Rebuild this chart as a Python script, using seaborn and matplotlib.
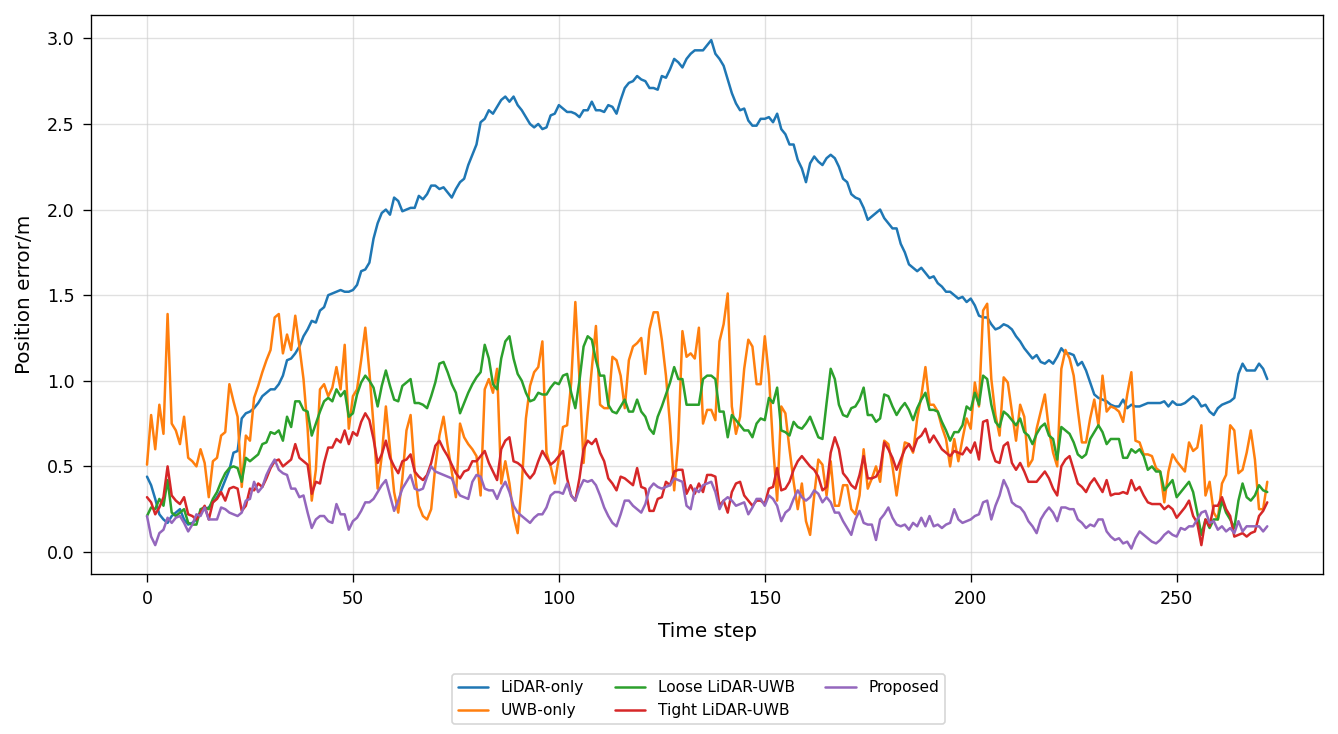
import numpy as np
import pandas as pd
import matplotlib
matplotlib.use("Agg")
import matplotlib.pyplot as plt
import seaborn as sns

# position error per time step
lidar_only = [
    0.44, 0.39, 0.31, 0.22, 0.19, 0.17, 0.21, 0.23, 0.25, 0.19,
    0.16, 0.17, 0.19, 0.23, 0.25, 0.26, 0.29, 0.32, 0.36, 0.42,
    0.48, 0.58, 0.59, 0.78, 0.81, 0.82, 0.84, 0.87, 0.91, 0.93,
    0.95, 0.95, 0.98, 1.03, 1.12, 1.13, 1.16, 1.20, 1.26, 1.30,
    1.35, 1.34, 1.41, 1.43, 1.50, 1.51, 1.52, 1.53, 1.52, 1.52,
    1.53, 1.56, 1.64, 1.65, 1.69, 1.83, 1.92, 1.98, 2.00, 1.97,
    2.07, 2.05, 1.99, 2.00, 2.01, 2.01, 2.08, 2.06, 2.09, 2.14,
    2.14, 2.12, 2.13, 2.10, 2.07, 2.12, 2.16, 2.18, 2.26, 2.32,
    2.38, 2.51, 2.53, 2.58, 2.56, 2.60, 2.64, 2.66, 2.63, 2.66,
    2.61, 2.58, 2.54, 2.50, 2.48, 2.50, 2.47, 2.48, 2.55, 2.56,
    2.61, 2.59, 2.57, 2.57, 2.56, 2.54, 2.58, 2.58, 2.63, 2.58,
    2.58, 2.57, 2.61, 2.60, 2.56, 2.64, 2.71, 2.74, 2.75, 2.78,
    2.76, 2.75, 2.71, 2.71, 2.70, 2.78, 2.77, 2.82, 2.88, 2.86,
    2.83, 2.88, 2.91, 2.93, 2.93, 2.93, 2.96, 2.99, 2.91, 2.88,
    2.84, 2.76, 2.68, 2.62, 2.58, 2.59, 2.52, 2.49, 2.49, 2.53,
    2.53, 2.54, 2.51, 2.56, 2.47, 2.44, 2.38, 2.38, 2.29, 2.24,
    2.16, 2.27, 2.31, 2.28, 2.26, 2.30, 2.32, 2.30, 2.25, 2.18,
    2.16, 2.09, 2.07, 2.06, 2.01, 1.94, 1.96, 1.98, 2.00, 1.95,
    1.92, 1.89, 1.89, 1.80, 1.75, 1.68, 1.66, 1.64, 1.66, 1.63,
    1.60, 1.61, 1.57, 1.55, 1.52, 1.52, 1.50, 1.48, 1.49, 1.46,
    1.48, 1.44, 1.38, 1.37, 1.37, 1.33, 1.30, 1.31, 1.33, 1.32,
    1.30, 1.26, 1.23, 1.19, 1.16, 1.13, 1.15, 1.11, 1.10, 1.12,
    1.10, 1.14, 1.19, 1.16, 1.16, 1.15, 1.09, 1.11, 1.06, 0.99,
    0.92, 0.90, 0.89, 0.88, 0.86, 0.85, 0.85, 0.89, 0.84, 0.86,
    0.85, 0.85, 0.86, 0.87, 0.87, 0.87, 0.87, 0.88, 0.85, 0.88,
    0.86, 0.86, 0.87, 0.89, 0.91, 0.89, 0.85, 0.86, 0.82, 0.80,
    0.84, 0.86, 0.87, 0.88, 0.90, 1.04, 1.10, 1.06, 1.06, 1.06,
    1.10, 1.07, 1.01,
]

uwb_only = [
    0.51, 0.80, 0.60, 0.86, 0.69, 1.39, 0.75, 0.71, 0.63, 0.79,
    0.55, 0.53, 0.50, 0.60, 0.52, 0.32, 0.53, 0.55, 0.68, 0.70,
    0.98, 0.88, 0.79, 0.38, 0.68, 0.65, 0.90, 0.97, 1.05, 1.12,
    1.18, 1.37, 1.39, 1.16, 1.27, 1.18, 1.38, 1.20, 1.01, 0.72,
    0.30, 0.48, 0.95, 0.98, 0.91, 0.96, 1.08, 0.95, 1.21, 0.72,
    0.91, 0.95, 1.12, 1.31, 1.05, 0.74, 0.37, 0.56, 0.85, 0.60,
    0.35, 0.23, 0.43, 0.71, 0.80, 0.47, 0.27, 0.21, 0.19, 0.25,
    0.50, 0.68, 0.79, 0.62, 0.47, 0.32, 0.75, 0.67, 0.63, 0.60,
    0.56, 0.33, 0.95, 1.01, 0.93, 1.07, 0.40, 0.53, 0.40, 0.21,
    0.11, 0.40, 0.78, 0.97, 1.05, 1.08, 1.23, 0.58, 0.50, 0.40,
    0.55, 0.73, 0.74, 0.99, 1.46, 1.01, 0.52, 0.81, 1.07, 1.32,
    0.86, 0.84, 0.84, 1.14, 1.12, 1.03, 0.84, 1.12, 1.20, 1.22,
    1.25, 1.04, 1.30, 1.40, 1.40, 1.24, 1.03, 0.74, 0.36, 0.65,
    1.29, 1.14, 1.16, 1.13, 1.31, 0.75, 0.83, 0.83, 0.77, 1.23,
    1.33, 1.51, 0.85, 0.69, 0.79, 1.07, 1.24, 1.20, 0.98, 0.98,
    1.26, 1.03, 0.62, 0.30, 0.85, 0.81, 0.60, 0.41, 0.25, 0.40,
    0.18, 0.10, 0.33, 0.54, 0.51, 0.33, 0.53, 0.27, 0.27, 0.39,
    0.39, 0.25, 0.22, 0.33, 0.60, 0.37, 0.43, 0.50, 0.41, 0.65,
    0.63, 0.50, 0.33, 0.50, 0.64, 0.63, 0.58, 0.78, 0.91, 1.08,
    0.86, 0.86, 0.82, 0.73, 0.66, 0.50, 0.66, 0.53, 0.66, 0.78,
    0.72, 0.99, 0.85, 1.41, 1.45, 1.01, 0.80, 0.68, 1.02, 0.99,
    0.82, 0.65, 0.86, 0.79, 0.50, 0.54, 0.72, 0.82, 0.92, 0.71,
    0.58, 0.50, 1.07, 1.18, 1.13, 1.03, 0.83, 0.64, 0.64, 0.78,
    0.89, 0.74, 1.03, 0.82, 0.85, 0.84, 0.82, 0.76, 0.92, 1.05,
    0.65, 0.64, 0.57, 0.57, 0.56, 0.49, 0.47, 0.29, 0.47, 0.57,
    0.53, 0.50, 0.47, 0.64, 0.59, 0.61, 0.74, 0.33, 0.41, 0.23,
    0.19, 0.40, 0.45, 0.74, 0.71, 0.46, 0.48, 0.58, 0.71, 0.54,
    0.25, 0.25, 0.41,
]

loose = [
    0.21, 0.26, 0.25, 0.31, 0.27, 0.42, 0.23, 0.21, 0.23, 0.25,
    0.17, 0.16, 0.16, 0.25, 0.26, 0.25, 0.31, 0.35, 0.41, 0.46,
    0.49, 0.50, 0.49, 0.41, 0.55, 0.53, 0.55, 0.57, 0.63, 0.64,
    0.70, 0.69, 0.71, 0.65, 0.79, 0.73, 0.88, 0.88, 0.83, 0.82,
    0.68, 0.75, 0.82, 0.88, 0.90, 0.88, 0.95, 0.91, 0.94, 0.79,
    0.81, 0.92, 0.99, 1.03, 1.00, 0.96, 0.85, 0.97, 1.06, 0.97,
    0.89, 0.88, 0.97, 0.99, 1.01, 0.87, 0.87, 0.86, 0.84, 0.91,
    0.99, 1.10, 1.11, 1.05, 0.98, 0.93, 0.81, 0.87, 0.93, 0.98,
    1.02, 1.05, 1.21, 1.13, 0.98, 0.95, 1.13, 1.23, 1.26, 1.13,
    1.04, 1.00, 0.93, 0.88, 0.89, 0.93, 0.92, 0.92, 0.96, 0.99,
    0.98, 1.03, 1.04, 0.93, 0.84, 1.00, 1.20, 1.26, 1.24, 1.12,
    1.03, 1.03, 0.86, 0.82, 0.81, 0.85, 0.89, 0.82, 0.82, 0.89,
    0.82, 0.79, 0.72, 0.69, 0.79, 0.85, 0.92, 0.99, 1.08, 1.01,
    1.01, 0.86, 0.86, 0.86, 0.86, 1.01, 1.03, 1.03, 1.01, 0.82,
    0.82, 0.67, 0.80, 0.77, 0.74, 0.71, 0.71, 0.67, 0.75, 0.78,
    0.77, 0.90, 0.87, 0.96, 0.71, 0.70, 0.68, 0.76, 0.73, 0.72,
    0.75, 0.79, 0.73, 0.67, 0.66, 0.87, 1.07, 1.01, 0.86, 0.80,
    0.79, 0.84, 0.85, 0.89, 0.96, 0.80, 0.80, 0.76, 0.78, 0.92,
    0.91, 0.85, 0.80, 0.84, 0.87, 0.83, 0.77, 0.84, 0.89, 0.93,
    0.83, 0.83, 0.82, 0.76, 0.71, 0.65, 0.70, 0.70, 0.74, 0.85,
    0.83, 0.93, 0.86, 1.03, 1.01, 0.86, 0.76, 0.73, 0.82, 0.80,
    0.77, 0.74, 0.78, 0.70, 0.68, 0.63, 0.69, 0.73, 0.75, 0.68,
    0.66, 0.54, 0.73, 0.71, 0.69, 0.64, 0.57, 0.55, 0.57, 0.66,
    0.70, 0.74, 0.70, 0.63, 0.66, 0.66, 0.66, 0.55, 0.55, 0.60,
    0.58, 0.60, 0.56, 0.48, 0.50, 0.47, 0.47, 0.36, 0.39, 0.42,
    0.32, 0.35, 0.38, 0.41, 0.35, 0.23, 0.10, 0.19, 0.14, 0.19,
    0.19, 0.30, 0.23, 0.19, 0.14, 0.30, 0.40, 0.32, 0.30, 0.33,
    0.39, 0.36, 0.35,
]

tight = [
    0.32, 0.29, 0.22, 0.26, 0.32, 0.50, 0.33, 0.30, 0.28, 0.32,
    0.22, 0.21, 0.19, 0.23, 0.27, 0.19, 0.29, 0.31, 0.35, 0.30,
    0.37, 0.38, 0.37, 0.24, 0.27, 0.37, 0.36, 0.40, 0.38, 0.43,
    0.49, 0.53, 0.54, 0.50, 0.52, 0.54, 0.63, 0.55, 0.53, 0.51,
    0.34, 0.41, 0.40, 0.52, 0.61, 0.61, 0.66, 0.64, 0.71, 0.63,
    0.70, 0.68, 0.76, 0.81, 0.77, 0.66, 0.52, 0.57, 0.65, 0.55,
    0.50, 0.46, 0.53, 0.54, 0.57, 0.47, 0.44, 0.42, 0.45, 0.52,
    0.62, 0.65, 0.60, 0.56, 0.51, 0.46, 0.43, 0.47, 0.48, 0.53,
    0.53, 0.56, 0.59, 0.52, 0.47, 0.42, 0.60, 0.65, 0.67, 0.53,
    0.52, 0.50, 0.46, 0.43, 0.46, 0.53, 0.59, 0.55, 0.51, 0.53,
    0.56, 0.59, 0.43, 0.33, 0.30, 0.43, 0.60, 0.65, 0.63, 0.66,
    0.58, 0.53, 0.43, 0.40, 0.36, 0.44, 0.43, 0.41, 0.39, 0.49,
    0.38, 0.37, 0.24, 0.24, 0.31, 0.32, 0.41, 0.39, 0.47, 0.48,
    0.48, 0.34, 0.39, 0.34, 0.40, 0.35, 0.45, 0.45, 0.44, 0.27,
    0.30, 0.23, 0.35, 0.40, 0.41, 0.33, 0.30, 0.27, 0.30, 0.30,
    0.28, 0.37, 0.38, 0.49, 0.36, 0.37, 0.41, 0.48, 0.53, 0.56,
    0.53, 0.50, 0.48, 0.44, 0.36, 0.38, 0.58, 0.67, 0.60, 0.46,
    0.43, 0.39, 0.37, 0.45, 0.56, 0.43, 0.43, 0.44, 0.48, 0.64,
    0.60, 0.55, 0.48, 0.54, 0.60, 0.63, 0.59, 0.66, 0.68, 0.72,
    0.64, 0.68, 0.64, 0.60, 0.58, 0.56, 0.59, 0.58, 0.57, 0.61,
    0.58, 0.64, 0.54, 0.76, 0.77, 0.60, 0.53, 0.52, 0.62, 0.64,
    0.52, 0.48, 0.52, 0.47, 0.41, 0.41, 0.41, 0.44, 0.47, 0.43,
    0.37, 0.33, 0.50, 0.54, 0.56, 0.48, 0.40, 0.38, 0.35, 0.40,
    0.43, 0.39, 0.35, 0.42, 0.33, 0.34, 0.34, 0.35, 0.34, 0.42,
    0.36, 0.38, 0.33, 0.29, 0.28, 0.28, 0.28, 0.25, 0.27, 0.25,
    0.20, 0.23, 0.26, 0.30, 0.21, 0.17, 0.04, 0.19, 0.15, 0.27,
    0.27, 0.32, 0.25, 0.21, 0.09, 0.10, 0.11, 0.09, 0.11, 0.12,
    0.21, 0.24, 0.29,
]

proposed = [
    0.21, 0.09, 0.04, 0.11, 0.13, 0.20, 0.17, 0.20, 0.21, 0.17,
    0.12, 0.16, 0.22, 0.21, 0.26, 0.19, 0.19, 0.19, 0.26, 0.25,
    0.23, 0.22, 0.21, 0.23, 0.30, 0.31, 0.41, 0.35, 0.38, 0.45,
    0.50, 0.54, 0.48, 0.46, 0.45, 0.37, 0.37, 0.32, 0.33, 0.23,
    0.14, 0.19, 0.21, 0.21, 0.18, 0.17, 0.28, 0.22, 0.22, 0.13,
    0.18, 0.20, 0.24, 0.29, 0.29, 0.31, 0.35, 0.39, 0.42, 0.33,
    0.24, 0.30, 0.37, 0.41, 0.45, 0.37, 0.36, 0.37, 0.44, 0.50,
    0.47, 0.46, 0.45, 0.44, 0.43, 0.37, 0.33, 0.32, 0.31, 0.41,
    0.45, 0.44, 0.37, 0.36, 0.36, 0.31, 0.37, 0.41, 0.35, 0.27,
    0.23, 0.21, 0.19, 0.17, 0.20, 0.22, 0.22, 0.26, 0.33, 0.35,
    0.35, 0.34, 0.40, 0.33, 0.30, 0.37, 0.42, 0.41, 0.42, 0.39,
    0.33, 0.26, 0.21, 0.17, 0.15, 0.22, 0.30, 0.30, 0.27, 0.25,
    0.23, 0.28, 0.37, 0.40, 0.38, 0.37, 0.38, 0.39, 0.43, 0.42,
    0.41, 0.27, 0.25, 0.37, 0.35, 0.39, 0.40, 0.41, 0.35, 0.25,
    0.30, 0.32, 0.30, 0.27, 0.28, 0.29, 0.22, 0.26, 0.31, 0.31,
    0.27, 0.33, 0.31, 0.27, 0.18, 0.23, 0.25, 0.31, 0.36, 0.32,
    0.30, 0.32, 0.36, 0.34, 0.29, 0.32, 0.29, 0.23, 0.23, 0.18,
    0.14, 0.10, 0.19, 0.24, 0.17, 0.16, 0.16, 0.07, 0.19, 0.22,
    0.26, 0.20, 0.16, 0.15, 0.16, 0.13, 0.17, 0.15, 0.20, 0.15,
    0.21, 0.15, 0.16, 0.14, 0.16, 0.17, 0.25, 0.19, 0.17, 0.18,
    0.19, 0.21, 0.22, 0.29, 0.30, 0.19, 0.27, 0.33, 0.42, 0.37,
    0.29, 0.27, 0.26, 0.23, 0.18, 0.15, 0.11, 0.19, 0.23, 0.26,
    0.23, 0.18, 0.26, 0.26, 0.25, 0.25, 0.19, 0.17, 0.14, 0.16,
    0.15, 0.19, 0.19, 0.12, 0.09, 0.07, 0.08, 0.05, 0.06, 0.02,
    0.08, 0.12, 0.10, 0.08, 0.06, 0.05, 0.07, 0.10, 0.12, 0.10,
    0.09, 0.14, 0.13, 0.15, 0.15, 0.19, 0.23, 0.24, 0.17, 0.18,
    0.13, 0.15, 0.12, 0.14, 0.11, 0.18, 0.12, 0.15, 0.15, 0.15,
    0.15, 0.12, 0.15,
]

methods = ["LiDAR-only", "UWB-only", "Loose LiDAR-UWB", "Tight LiDAR-UWB", "Proposed"]
series = [lidar_only, uwb_only, loose, tight, proposed]
colors = ["#1f77b4", "#ff7f0e", "#2ca02c", "#d62728", "#9467bd"]

frames = []
for name, vals in zip(methods, series):
    frames.append(pd.DataFrame({"step": np.arange(len(vals)), "error": vals, "method": name}))
df = pd.concat(frames, ignore_index=True)

sns.set_style("ticks")
plt.rcParams["font.family"] = ["DejaVu Sans"]
plt.rcParams.update({"text.color": "black", "axes.labelcolor": "black",
                     "xtick.color": "black", "ytick.color": "black"})

fig, ax = plt.subplots(figsize=(11.15, 6.117), dpi=120)
fig.subplots_adjust(left=0.068, right=0.989, top=0.980, bottom=0.218)

sns.lineplot(data=df, x="step", y="error", hue="method", hue_order=methods,
             palette=colors, linewidth=1.5, estimator=None, ax=ax)

ax.grid(True, color="#cccccc", alpha=0.6, linewidth=0.8)
ax.set_xlabel("Time step", fontsize=12, labelpad=8)
ax.set_ylabel("Position error/m", fontsize=12, labelpad=8)
ax.tick_params(labelsize=10.5, length=4.8, pad=5)
for s in ax.spines.values():
    s.set_color("black")

handles, labels = ax.get_legend_handles_labels()
ax.get_legend().remove()
fig.legend(handles, labels, loc="lower center", ncol=3,
           bbox_to_anchor=(0.522, 0.0136), borderaxespad=0,
           fontsize=9.2, frameon=True)

fig.savefig("out.png", dpi=120)
